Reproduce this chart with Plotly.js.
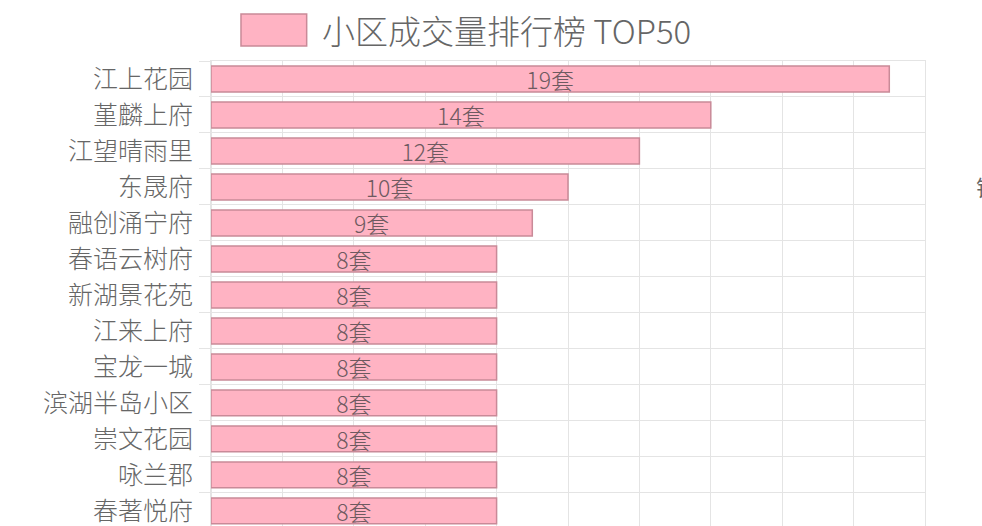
<!DOCTYPE html>
<html>
<head>
<meta charset="utf-8">
<script src="https://cdn.plot.ly/plotly-3.0.1.min.js"></script>
<style>
  html, body { margin: 0; padding: 0; background: #fff; }
  #chart { width: 982px; height: 526px; }
</style>
</head>
<body>
<div id="chart"></div>
<script>
// visible part of the TOP50 list
var names = ['江上花园', '堇麟上府', '江望晴雨里', '东晟府', '融创涌宁府', '春语云树府',
  '新湖景花苑', '江来上府', '宝龙一城', '滨湖半岛小区', '崇文花园', '咏兰郡', '春著悦府'];
var deals = [19, 14, 12, 10, 9, 8, 8, 8, 8, 8, 8, 8, 8];
var unit = '套';
var seriesName = '小区成交量排行榜 TOP50';

var font = '"Noto Sans CJK SC", "Noto Sans", sans-serif';
var grid = '#e4e4e4';

var trace = {
  type: 'bar',
  orientation: 'h',
  y: names,
  x: deals,
  name: seriesName,
  width: 0.72,
  marker: { color: '#ffb3c3', line: { color: '#c98a98', width: 1.5 } },
  texttemplate: '%{x}' + unit,
  textposition: 'inside',
  insidetextanchor: 'middle',
  constraintext: 'none',
  textangle: 0,
  textfont: { family: font, size: 23, color: '#6e5a60', weight: 300 },
  hoverinfo: 'none'
};

var layout = {
  width: 982,
  height: 526,
  margin: { l: 211, r: 57, t: 61, b: 0 },
  paper_bgcolor: '#fff',
  plot_bgcolor: '#fff',
  showlegend: false,
  uniformtext: { mode: 'show', minsize: 23 },
  font: { family: font, color: '#666' },
  xaxis: {
    range: [0, 20],
    dtick: 2,
    showticklabels: false,
    showgrid: true,
    gridcolor: grid,
    zeroline: true,
    zerolinecolor: grid,
    zerolinewidth: 1,
    showline: true,
    mirror: true,
    linecolor: grid,
    fixedrange: true
  },
  yaxis: {
    type: 'category',
    range: [12.42, -0.5],
    tickson: 'boundaries',
    ticks: 'outside',
    ticklen: 11,
    tickcolor: grid,
    showgrid: true,
    gridcolor: grid,
    showline: true,
    mirror: true,
    linecolor: grid,
    tickfont: { family: font, size: 25, color: '#666', weight: 300 },
    ticklabelstandoff: 12,
    fixedrange: true
  },
  shapes: [{
    type: 'rect', xref: 'paper', yref: 'paper',
    x0: 0.042, x1: 0.134, y0: 1.032, y1: 1.101,
    fillcolor: '#ffb3c3', line: { color: '#c98a98', width: 1.5 }
  }],
  annotations: [{
    text: seriesName, xref: 'paper', yref: 'paper',
    x: 0.152, y: 1.067, xanchor: 'left', yanchor: 'middle',
    showarrow: false, font: { family: font, size: 33, color: '#666', weight: 300 }
  }, {
    text: '销', xref: 'paper', yref: 'paper',
    x: 1.068, y: 0.731, xanchor: 'left', yanchor: 'middle',
    showarrow: false, font: { family: font, size: 22, color: '#666' }
  }]
};

Plotly.newPlot('chart', [trace], layout, { displayModeBar: false, staticPlot: true });
</script>
</body>
</html>
